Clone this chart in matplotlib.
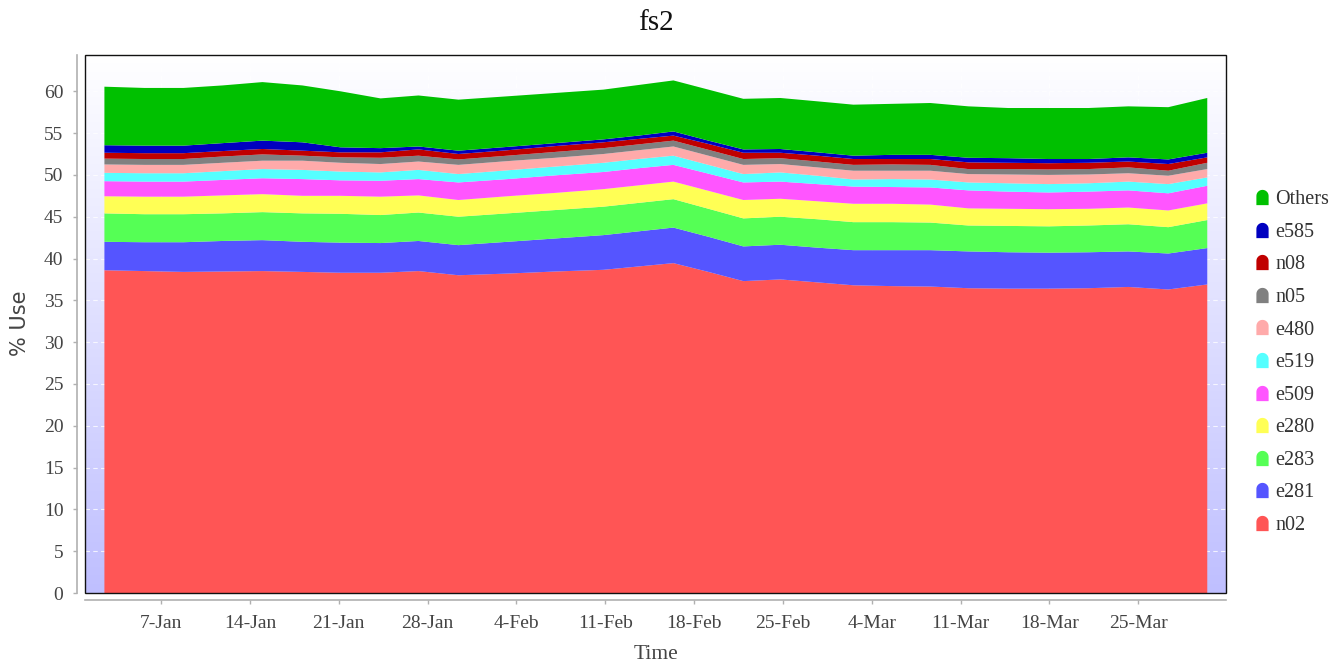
"""Stacked area chart of fs2 disk usage by user."""

import matplotlib

matplotlib.use("Agg")

import matplotlib.dates as mdates
import matplotlib.pyplot as plt
import numpy as np
import pandas as pd
from matplotlib.lines import Line2D
from matplotlib.patches import Rectangle
from matplotlib.path import Path

# sample times, in days after 1 Jan
day_offsets = [1.53, 4.68, 7.76, 10.83, 13.98, 17.13, 20.13, 23.29, 26.28, 29.43,
               33.29, 37.07, 40.85, 43.61, 46.37, 49.13, 51.88, 54.80, 57.71, 60.55,
               63.62, 66.62, 69.61, 72.76, 75.92, 79.07, 82.22, 85.37, 88.44]

# stack order, bottom to top
series_names = ["n02", "e281", "e283", "e280", "e509", "e519", "e480",
                "n05", "n08", "e585", "Others"]

n02 = [38.6, 38.5, 38.4, 38.45, 38.5, 38.4, 38.3, 38.3, 38.5, 38.0,
       38.2, 38.45, 38.65, 39.05, 39.45, 38.4, 37.3, 37.5, 37.15, 36.8,
       36.7, 36.65, 36.45, 36.4, 36.4, 36.45, 36.6, 36.3, 36.9]
e281 = [3.4, 3.45, 3.55, 3.65, 3.7, 3.6, 3.6, 3.55, 3.6, 3.6,
        3.8, 3.95, 4.15, 4.2, 4.25, 4.2, 4.15, 4.15, 4.15, 4.2,
        4.3, 4.35, 4.4, 4.35, 4.3, 4.3, 4.25, 4.3, 4.35]
e283 = [3.4, 3.35, 3.35, 3.3, 3.35, 3.4, 3.45, 3.35, 3.4, 3.4,
        3.4, 3.4, 3.4, 3.4, 3.4, 3.35, 3.35, 3.35, 3.4, 3.35,
        3.35, 3.3, 3.1, 3.15, 3.15, 3.2, 3.25, 3.15, 3.35]
e280 = [2.05, 2.1, 2.1, 2.15, 2.15, 2.1, 2.15, 2.2, 2.05, 2.0,
        2.05, 2.05, 2.1, 2.1, 2.1, 2.15, 2.2, 2.15, 2.15, 2.2,
        2.2, 2.15, 2.05, 2.05, 2.05, 2.0, 2.0, 2.0, 2.0]
e509 = [1.8, 1.8, 1.8, 1.85, 1.9, 2.0, 1.85, 1.9, 1.95, 2.1,
        2.05, 2.1, 2.05, 2.05, 2.0, 2.05, 2.1, 2.05, 2.05, 2.05,
        2.0, 2.05, 2.15, 2.05, 2.0, 2.05, 2.05, 2.05, 2.1]
e519 = [1.0, 1.0, 1.0, 1.05, 1.1, 1.1, 1.05, 1.0, 1.1, 1.0,
        1.05, 1.05, 1.1, 1.1, 1.1, 1.05, 1.0, 1.1, 1.0, 0.85,
        0.95, 0.95, 0.95, 1.0, 1.0, 1.0, 1.05, 1.1, 1.0]
e480 = [1.0, 1.0, 1.0, 1.0, 1.0, 1.1, 1.05, 1.0, 1.0, 1.1,
        1.1, 1.05, 1.05, 1.05, 1.1, 1.1, 1.1, 1.0, 1.0, 1.05,
        1.0, 1.05, 1.0, 1.05, 1.1, 1.05, 1.0, 1.0, 1.0]
n05 = [0.7, 0.7, 0.7, 0.75, 0.75, 0.6, 0.65, 0.75, 0.7, 0.65,
       0.65, 0.7, 0.7, 0.7, 0.7, 0.7, 0.7, 0.7, 0.7, 0.7,
       0.75, 0.7, 0.6, 0.65, 0.65, 0.65, 0.7, 0.6, 0.75]
n08 = [0.7, 0.7, 0.7, 0.65, 0.65, 0.6, 0.6, 0.65, 0.75, 0.65,
       0.65, 0.7, 0.7, 0.65, 0.6, 0.7, 0.75, 0.65, 0.7, 0.7,
       0.65, 0.7, 0.8, 0.75, 0.75, 0.75, 0.7, 0.8, 0.65]
e585 = [0.9, 0.9, 0.9, 0.95, 1.0, 1.0, 0.6, 0.5, 0.35, 0.4,
        0.4, 0.35, 0.35, 0.4, 0.5, 0.4, 0.4, 0.45, 0.4, 0.4,
        0.5, 0.5, 0.55, 0.55, 0.5, 0.45, 0.5, 0.55, 0.55]
others = [7.0, 6.9, 6.9, 6.9, 7.0, 6.8, 6.7, 5.95, 6.1, 6.1,
          6.05, 6.0, 5.95, 6.05, 6.1, 6.1, 6.05, 6.1, 6.1, 6.1,
          6.1, 6.2, 6.15, 6.0, 6.1, 6.1, 6.1, 6.25, 6.55]

series_colors = ["#ff5555", "#5555ff", "#55ff55", "#ffff55", "#ff55ff", "#55ffff",
                 "#ffaaaa", "#808080", "#c00000", "#0000c0", "#00c000"]

SERIF = ["Liberation Serif", "DejaVu Serif"]
TEXT_GREY = "#444444"
AXIS_GREY = "#b0b0b0"


def legend_marker() -> Path:
    # flat bottom, straight sides, domed top
    theta = np.linspace(0, np.pi, 20)
    top = np.column_stack((0.8 * np.cos(theta), 0.2 + 0.8 * np.sin(theta)))
    verts = np.vstack(([[0.8, -1]], top, [[-0.8, -1], [0.8, -1]]))
    return Path(verts)


def main() -> None:
    dates = pd.Timestamp("2019-01-01") + pd.to_timedelta(day_offsets, unit="D")
    values = [n02, e281, e283, e280, e509, e519, e480, n05, n08, e585, others]

    fig = plt.figure(figsize=(13.43, 6.66), dpi=100)
    ax = fig.add_axes([85 / 1343, 73 / 666, 1141 / 1343, 538.5 / 666])

    # white-to-lavender background, white on top
    grad = np.linspace(0, 1, 256)[:, None]
    cmap = matplotlib.colors.LinearSegmentedColormap.from_list(
        "bg", ["#ffffff", "#bfbfff"])
    ax.imshow(grad, extent=[0, 1, 0, 1], transform=ax.transAxes, cmap=cmap,
              origin="upper", aspect="auto", zorder=0, interpolation="bilinear")

    ax.stackplot(dates, values, colors=series_colors, labels=series_names,
                 linewidth=0, zorder=2)

    ax.set_xlim(pd.Timestamp("2019-01-01"), pd.Timestamp("2019-03-31 22:00"))
    ax.set_ylim(0, 64.4)
    ax.set_yticks(np.arange(0, 61, 5))
    ax.xaxis.set_major_locator(mdates.WeekdayLocator(byweekday=mdates.MO))
    ax.xaxis.set_major_formatter(mdates.DateFormatter("%-d-%b"))

    ax.grid(True, color="white", linestyle=(0, (4, 3)), linewidth=0.8, alpha=0.8,
            zorder=1)
    ax.set_axisbelow(True)

    for side in ("top", "right"):
        ax.spines[side].set_visible(False)
    ax.spines["left"].set_position(("outward", 5.5))
    ax.spines["bottom"].set_position(("outward", 5))
    for side in ("left", "bottom"):
        ax.spines[side].set_color(AXIS_GREY)
        ax.spines[side].set_linewidth(1.2)
    ax.add_patch(Rectangle((0, 0), 1, 1, transform=ax.transAxes, fill=False,
                           edgecolor="#111111", linewidth=1.0, zorder=5,
                           clip_on=False))

    ax.tick_params(axis="both", colors=AXIS_GREY, labelcolor=TEXT_GREY,
                   length=3, width=1, labelsize=14)
    ax.tick_params(axis="x", pad=8)
    ax.tick_params(axis="y", pad=7)
    for label in ax.get_xticklabels() + ax.get_yticklabels():
        label.set_fontfamily(SERIF)

    ax.set_title("fs2", fontsize=21, family=SERIF, color="#111111", pad=18)
    ax.set_xlabel("Time", fontsize=15.5, family=SERIF, color=TEXT_GREY, labelpad=9)
    ax.set_ylabel("% Use", fontsize=15, family="DejaVu Sans", color=TEXT_GREY,
                  labelpad=10)

    marker = legend_marker()
    handles = [
        Line2D([], [], linestyle="none", marker=marker, markersize=11,
               markerfacecolor=color, markeredgewidth=0, label=name)
        for name, color in zip(series_names, series_colors)
    ]
    fig.legend(handles=handles[::-1], loc="upper left",
               bbox_to_anchor=(1245 / 1343, 1 - 182 / 666), frameon=False,
               prop={"family": SERIF, "size": 14.5}, labelcolor="#333333",
               labelspacing=0.67, handlelength=0.9, handletextpad=0.2,
               borderaxespad=0)

    fig.savefig("out.png", dpi=100)


if __name__ == "__main__":
    main()
